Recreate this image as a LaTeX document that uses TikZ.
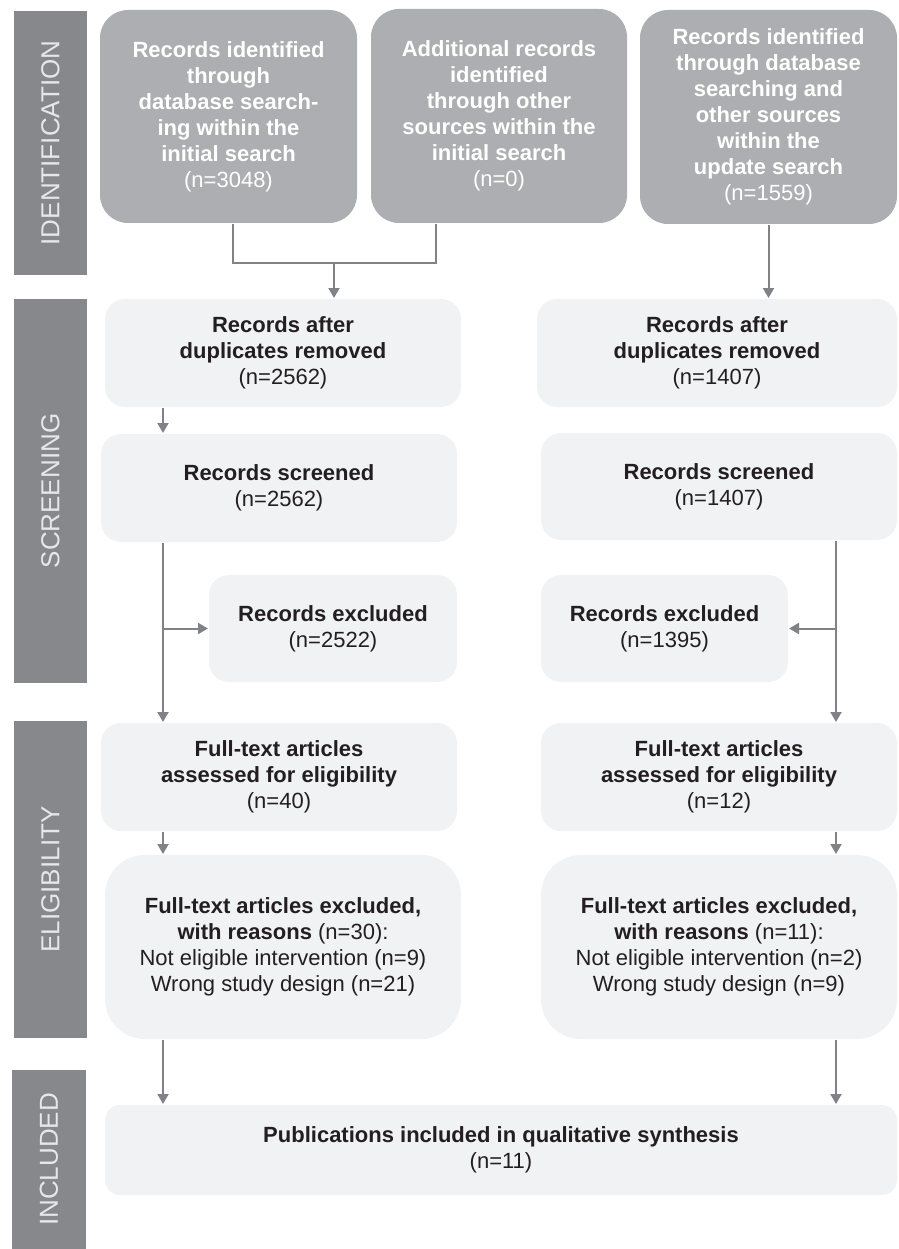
\documentclass[tikz,border=0pt]{standalone}
\usepackage{fontspec}
\setmainfont{Liberation Sans}
\usetikzlibrary{arrows.meta}

\definecolor{barGray}{HTML}{87888C}
\definecolor{barText}{HTML}{E6E7E8}
\definecolor{topGray}{HTML}{ADAEB1}
\definecolor{boxGray}{HTML}{F1F2F3}
\definecolor{lineGray}{HTML}{808285}
\definecolor{textDark}{HTML}{231F20}

\begin{document}
\begin{tikzpicture}[x=1pt,y=-1pt,
        line width=2pt,draw=lineGray,
        -{Triangle[length=10pt,width=11pt]},
        phaseBar/.style = {fill=barGray,text=barText,rotate=90,minimum height=73pt,inner sep=0pt,font=\fontsize{26}{30}\selectfont},
        topBox/.style = {fill=topGray,text=white,rounded corners=28pt,inner sep=0pt,align=center,font=\fontsize{22}{26}\selectfont\bfseries},
        lightBox/.style = {fill=boxGray,text=textDark,rounded corners=20pt,inner sep=0pt,align=center,font=\fontsize{22}{26}\selectfont},
        bigBox/.style = {lightBox,rounded corners=40pt} % box with the reasons
        ]
        \useasboundingbox (0,0) rectangle (898,1249);

        % phase bars on the left
        \node[phaseBar, minimum width=264pt] (idBar) at (50.5,143) {IDENTIFICATION};
        \node[phaseBar, minimum width=384pt] (scBar) at (50.5,491) {SCREENING};
        \node[phaseBar, minimum width=317pt] (elBar) at (50.5,879.5) {ELIGIBILITY};
        \node[phaseBar, minimum width=179pt, minimum height=74pt] (inBar) at (49,1159.5) {INCLUDED};

        % identification
        \node[topBox, minimum width=257pt, minimum height=213pt] (id1) at (228.5,116.5)
            {Records identified\\through\\database search-\\ing within the\\initial search\\\mdseries(n=3048)};
        \node[topBox, minimum width=256pt, minimum height=214pt] (id2) at (499,116)
            {Additional records\\identified\\through other\\sources within the\\initial search\\\mdseries(n=0)};
        \node[topBox, minimum width=257pt, minimum height=214pt] (id3) at (768.5,117)
            {Records identified\\through database\\searching and\\other sources\\within the\\update search\\\mdseries(n=1559)};

        % screening
        \node[lightBox, minimum width=356pt, minimum height=108pt] (dupL) at (283,353)
            {\textbf{Records after}\\\textbf{duplicates removed}\\(n=2562)};
        \node[lightBox, minimum width=360pt, minimum height=108pt] (dupR) at (717,353)
            {\textbf{Records after}\\\textbf{duplicates removed}\\(n=1407)};
        \node[lightBox, minimum width=356pt, minimum height=108pt] (scrL) at (279,488)
            {\textbf{Records screened}\\(n=2562)};
        \node[lightBox, minimum width=356pt, minimum height=107pt] (scrR) at (719,486.5)
            {\textbf{Records screened}\\(n=1407)};
        \node[lightBox, minimum width=248pt, minimum height=107pt] (exclL) at (333,628.5)
            {\textbf{Records excluded}\\(n=2522)};
        \node[lightBox, minimum width=247pt, minimum height=107pt] (exclR) at (664.5,628.5)
            {\textbf{Records excluded}\\(n=1395)};

        % eligibility
        \node[lightBox, minimum width=356pt, minimum height=108pt] (fullL) at (279,777)
            {\textbf{Full-text articles}\\\textbf{assessed for eligibility}\\(n=40)};
        \node[lightBox, minimum width=356pt, minimum height=108pt] (fullR) at (719,777)
            {\textbf{Full-text articles}\\\textbf{assessed for eligibility}\\(n=12)};
        \node[bigBox, minimum width=356pt, minimum height=184pt] (exfL) at (283,947)
            {\textbf{Full-text articles excluded,}\\\textbf{with reasons} (n=30):\\Not eligible intervention (n=9)\\Wrong study design (n=21)};
        \node[bigBox, minimum width=356pt, minimum height=184pt] (exfR) at (719,947)
            {\textbf{Full-text articles excluded,}\\\textbf{with reasons} (n=11):\\Not eligible intervention (n=2)\\Wrong study design (n=9)};

        % included
        \node[lightBox, rounded corners=15pt, minimum width=792pt, minimum height=90pt] (incl) at (501,1150)
            {\textbf{Publications included in qualitative synthesis}\\(n=11)};

        % connectors
        \coordinate (merge) at (334,263);
        \coordinate (leftTrunk) at (163,0);
        \coordinate (rightTrunk) at (836,0);

        \draw[-] ([xshift=4.5pt]id1.south) |- (merge) -| ([xshift=-63pt]id2.south);
        \draw (merge) -- (merge |- dupL.north);
        \draw (id3.south) -- (id3.south |- dupR.north);

        \draw (dupL.south -| leftTrunk) -- (scrL.north -| leftTrunk);
        \draw (scrL.south -| leftTrunk) -- (fullL.north -| leftTrunk);
        \draw (exclL.west -| leftTrunk) -- (exclL.west);
        \draw (scrR.south -| rightTrunk) -- (fullR.north -| rightTrunk);
        \draw (exclR.east -| rightTrunk) -- (exclR.east);

        \draw (fullL.south -| leftTrunk) -- (exfL.north -| leftTrunk);
        \draw (fullR.south -| rightTrunk) -- (exfR.north -| rightTrunk);
        \draw (exfL.south -| leftTrunk) -- (incl.north -| leftTrunk);
        \draw (exfR.south -| rightTrunk) -- (incl.north -| rightTrunk);
    \end{tikzpicture}
\end{document}
